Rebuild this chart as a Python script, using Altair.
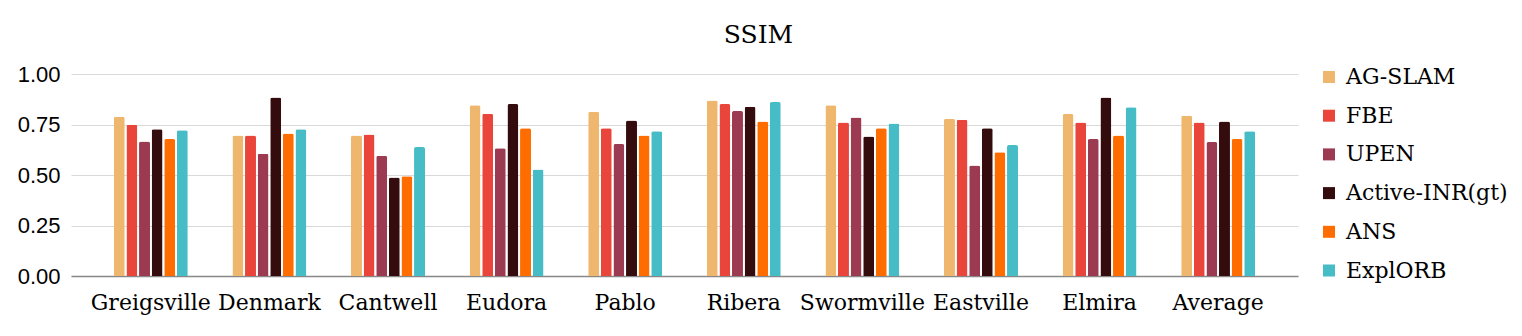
import altair as alt
import pandas as pd

categories = ["Greigsville", "Denmark", "Cantwell", "Eudora", "Pablo",
              "Ribera", "Swormville", "Eastville", "Elmira", "Average"]
methods = ["AG-SLAM", "FBE", "UPEN", "Active-INR(gt)", "ANS", "ExplORB"]
colors = ["#EFB66E", "#E9453B", "#9C3A52", "#340C0D", "#FF6D01", "#46BDC6"]

ag_slam = [0.788, 0.696, 0.696, 0.845, 0.813, 0.869, 0.845, 0.779, 0.802, 0.793]
fbe = [0.749, 0.696, 0.701, 0.803, 0.731, 0.851, 0.760, 0.774, 0.760, 0.760]
upen = [0.666, 0.605, 0.595, 0.633, 0.653, 0.817, 0.785, 0.547, 0.678, 0.663]
active_inr = [0.726, 0.884, 0.488, 0.851, 0.770, 0.838, 0.691, 0.731, 0.884, 0.765]
ans = [0.678, 0.706, 0.494, 0.731, 0.696, 0.765, 0.731, 0.613, 0.696, 0.678]
explorb = [0.722, 0.726, 0.638, 0.527, 0.716, 0.861, 0.755, 0.648, 0.836, 0.716]

series = [ag_slam, fbe, upen, active_inr, ans, explorb]
rows = []
for m, vals in zip(methods, series):
    for c, v in zip(categories, vals):
        rows.append({"Scene": c, "Method": m, "SSIM": v})
df = pd.DataFrame(rows)

serif = "DejaVu Serif"
sans = "Liberation Sans"

chart = alt.Chart(df).mark_bar(
    cornerRadiusTopLeft=2, cornerRadiusTopRight=2
).encode(
    x=alt.X("Scene:N", sort=categories, title=None,
            scale=alt.Scale(paddingInner=0.376, paddingOuter=0.361),
            axis=alt.Axis(labelAngle=0, labelFont=serif, labelFontSize=22,
                          labelColor="#000000", labelPadding=16, ticks=False,
                          domain=True, domainColor="#888888", domainWidth=1.5,
                          grid=False)),
    xOffset=alt.XOffset("Method:N", sort=methods,
                        scale=alt.Scale(paddingInner=0.13, paddingOuter=0)),
    y=alt.Y("SSIM:Q", title=None,
            scale=alt.Scale(domain=[0, 1], nice=False),
            axis=alt.Axis(values=[0, 0.25, 0.5, 0.75, 1.0], format=".2f",
                          labelFont=sans, labelFontSize=22, labelColor="#000000",
                          labelPadding=11, ticks=False, domain=False,
                          grid=True, gridColor="#d9d9d9", gridWidth=1.2)),
    color=alt.Color("Method:N", sort=methods,
                    scale=alt.Scale(domain=methods, range=colors),
                    legend=alt.Legend(title=None, orient="none",
                                      legendX=1247, legendY=-8,
                                      labelFont=serif, labelFontSize=22,
                                      labelColor="#000000", symbolType="square",
                                      symbolSize=144, symbolStrokeWidth=0,
                                      rowPadding=16.7, labelOffset=6,
                                      labelLimit=400)),
).properties(
    width=1227,
    height=202,
    padding={"left": 9, "top": 15, "right": 5, "bottom": 5},
    title=alt.TitleParams(text="SSIM", font=serif, fontSize=25,
                          fontWeight="normal", color="#000000",
                          anchor="middle", dx=74, offset=15),
).configure_view(stroke=None)

chart.save("out.html", embed_options={"renderer": "svg", "actions": False})
